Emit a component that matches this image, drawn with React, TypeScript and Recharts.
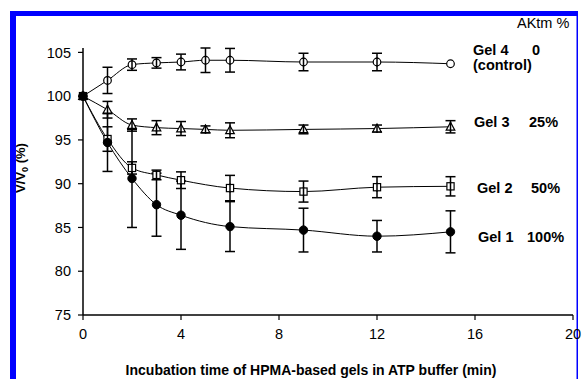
import React from 'react';
import { ComposedChart, Line, XAxis, YAxis, ErrorBar, Customized } from 'recharts';

const gel4Time = [0, 1, 2, 3, 4, 5, 6, 9, 12, 15];
const gel4Value = [100, 101.8, 103.6, 103.8, 103.9, 104.1, 104.1, 103.9, 103.9, 103.7];
const gel4Error = [null, 1.5, 0.65, 0.6, 0.9, 1.4, 1.35, 1.0, 1.0, null];

const gel3Time = [0, 1, 2, 3, 4, 5, 6, 9, 12, 15];
const gel3Value = [100, 98.45, 96.7, 96.4, 96.3, 96.2, 96.1, 96.2, 96.3, 96.5];
const gel3Error = [null, 0.95, 0.7, 0.8, 0.8, 0.4, 0.85, 0.5, 0.4, 0.7];

const gel2Time = [0, 1, 2, 3, 4, 6, 9, 12, 15];
const gel2Value = [100, 95.1, 91.8, 91.0, 90.4, 89.5, 89.1, 89.6, 89.7];
const gel2Error = [null, 1.4, 0.7, 0.55, 0.95, 1.45, 1.2, 1.2, 1.1];

const gel1Time = [0, 1, 2, 3, 4, 6, 9, 12, 15];
const gel1Value = [100, 94.7, 90.6, 87.6, 86.4, 85.1, 84.7, 84.0, 84.5];
const gel1Error = [null, 3.3, 5.6, 3.6, 3.9, 2.85, 2.5, 1.8, 2.4];

const xTicks = [0, 4, 8, 12, 16, 20];
const yTicks = [75, 80, 85, 90, 95, 100, 105];

const seriesLabels = [
  { name: 'Gel 4', pct: '0', extra: '(control)' },
  { name: 'Gel 3', pct: '25%' },
  { name: 'Gel 2', pct: '50%' },
  { name: 'Gel 1', pct: '100%' },
];

const build = (t: number[], v: number[], e: (number | null)[]) =>
  t.map((x, i) => ({ t: x, v: v[i], e: e[i] }));

const gel4 = build(gel4Time, gel4Value, gel4Error);
const gel3 = build(gel3Time, gel3Value, gel3Error);
const gel2 = build(gel2Time, gel2Value, gel2Error);
const gel1 = build(gel1Time, gel1Value, gel1Error);

const FONT = '"Liberation Sans", Arial, sans-serif';

const makeDot = (shape: string) => (props: any) => {
  const { cx, cy, payload, index } = props;
  if (cx == null || cy == null) return <g key={`d-${shape}-${index}`} />;
  const hasErr = payload && payload.e != null;
  let marker: any;
  if (shape === 'openCircle') {
    marker = <circle cx={cx} cy={cy} r={3.8} fill="#fff" stroke="#000" strokeWidth={1.2} />;
  } else if (shape === 'filledCircle') {
    marker = <circle cx={cx} cy={cy} r={4.2} fill="#000" stroke="#000" strokeWidth={1} />;
  } else if (shape === 'square') {
    marker = <rect x={cx - 3.6} y={cy - 3.6} width={7.2} height={7.2} fill="#fff" stroke="#000" strokeWidth={1.2} />;
  } else {
    marker = (
      <polygon
        points={`${cx},${cy - 4.5} ${cx - 4.3},${cy + 3.3} ${cx + 4.3},${cy + 3.3}`}
        fill="#fff"
        stroke="#000"
        strokeWidth={1.2}
      />
    );
  }
  return (
    <g key={`d-${shape}-${index}`}>
      {marker}
      {hasErr && <line x1={cx} x2={cx} y1={cy - 4.5} y2={cy + 4.5} stroke="#000" strokeWidth={1.5} />}
    </g>
  );
};

const Overlay = () => {
  const labelX = 474;
  const pctX = 532;
  return (
    <g fontFamily={FONT}>
      {/* series labels */}
      <text x={473} y={55} fontSize={14.5} fontWeight="bold" fill="#000">{seriesLabels[0].name}</text>
      <text x={pctX} y={55} fontSize={14.5} fontWeight="bold" fill="#000">{seriesLabels[0].pct}</text>
      <text x={473} y={70} fontSize={14.5} fontWeight="bold" fill="#000">{seriesLabels[0].extra}</text>
      <text x={labelX} y={127} fontSize={14.5} fontWeight="bold" fill="#000">{seriesLabels[1].name}</text>
      <text x={pctX - 3} y={127} fontSize={14.5} fontWeight="bold" fill="#000">{seriesLabels[1].pct}</text>
      <text x={477} y={193} fontSize={14.5} fontWeight="bold" fill="#000">{seriesLabels[2].name}</text>
      <text x={pctX - 1} y={193} fontSize={14.5} fontWeight="bold" fill="#000">{seriesLabels[2].pct}</text>
      <text x={478} y={242} fontSize={14.5} fontWeight="bold" fill="#000">{seriesLabels[3].name}</text>
      <text x={pctX - 5} y={242} fontSize={14.5} fontWeight="bold" fill="#000">{seriesLabels[3].pct}</text>
      {/* header */}
      <text x={517} y={28} fontSize={14.5} fill="#000">AKtm %</text>
      {/* y axis label */}
      <text transform="translate(25,168) rotate(-90)" textAnchor="middle" fontSize={13} fontWeight="bold" fill="#000">
        V/V<tspan fontSize={9} dy={3}>0</tspan><tspan dy={-3}> (%)</tspan>
      </text>
      {/* x axis label */}
      <text x={311} y={375} textAnchor="middle" fontSize={14} fontWeight="bold" fill="#000">
        Incubation time of HPMA-based gels in ATP buffer (min)
      </text>
      {/* frame */}
      <rect x={578} y={0} width={4} height={379} fill="#fff" />
      <rect x={10} y={11} width={568} height={5} fill="#0000ff" />
      <rect x={10} y={11} width={6} height={368} fill="#0000ff" />
      <rect x={576.5} y={11} width={1.5} height={368} fill="#0000ff" />
    </g>
  );
};

export default function App() {
  return (
    <div style={{ position: 'absolute', left: 0, top: 0, width: 582, height: 379, background: '#fff' }}>
      <ComposedChart width={582} height={379} margin={{ top: 48, right: 9, bottom: 34, left: 23 }}>
        <XAxis
          type="number"
          dataKey="t"
          domain={[0, 20]}
          ticks={xTicks}
          allowDuplicatedCategory={false}
          height={30}
          axisLine={{ stroke: '#000', strokeWidth: 1.5 }}
          tickLine={{ stroke: '#000', strokeWidth: 1.2 }}
          tickSize={5}
          tickMargin={9}
          tick={{ fill: '#000', fontSize: 14.5, fontFamily: FONT }}
          interval={0}
        />
        <YAxis
          type="number"
          domain={[75, 105]}
          ticks={yTicks}
          width={60}
          axisLine={{ stroke: '#000', strokeWidth: 1.5 }}
          tickLine={{ stroke: '#000', strokeWidth: 1.2 }}
          tickSize={5}
          tickMargin={7}
          tick={{ fill: '#000', fontSize: 14.5, fontFamily: FONT }}
          interval={0}
        />
        <Line data={gel4} dataKey="v" type="monotone" stroke="#000" strokeWidth={1} dot={makeDot('openCircle')} activeDot={false} isAnimationActive={false}>
          <ErrorBar dataKey="e" direction="y" width={5} stroke="#000" strokeWidth={1.5} isAnimationActive={false} />
        </Line>
        <Line data={gel3} dataKey="v" type="monotone" stroke="#000" strokeWidth={1} dot={makeDot('triangle')} activeDot={false} isAnimationActive={false}>
          <ErrorBar dataKey="e" direction="y" width={5} stroke="#000" strokeWidth={1.5} isAnimationActive={false} />
        </Line>
        <Line data={gel2} dataKey="v" type="monotone" stroke="#000" strokeWidth={1} dot={makeDot('square')} activeDot={false} isAnimationActive={false}>
          <ErrorBar dataKey="e" direction="y" width={5} stroke="#000" strokeWidth={1.5} isAnimationActive={false} />
        </Line>
        <Line data={gel1} dataKey="v" type="monotone" stroke="#000" strokeWidth={1} dot={makeDot('filledCircle')} activeDot={false} isAnimationActive={false}>
          <ErrorBar dataKey="e" direction="y" width={5} stroke="#000" strokeWidth={1.5} isAnimationActive={false} />
        </Line>
        <Customized component={<Overlay />} />
      </ComposedChart>
    </div>
  );
}
